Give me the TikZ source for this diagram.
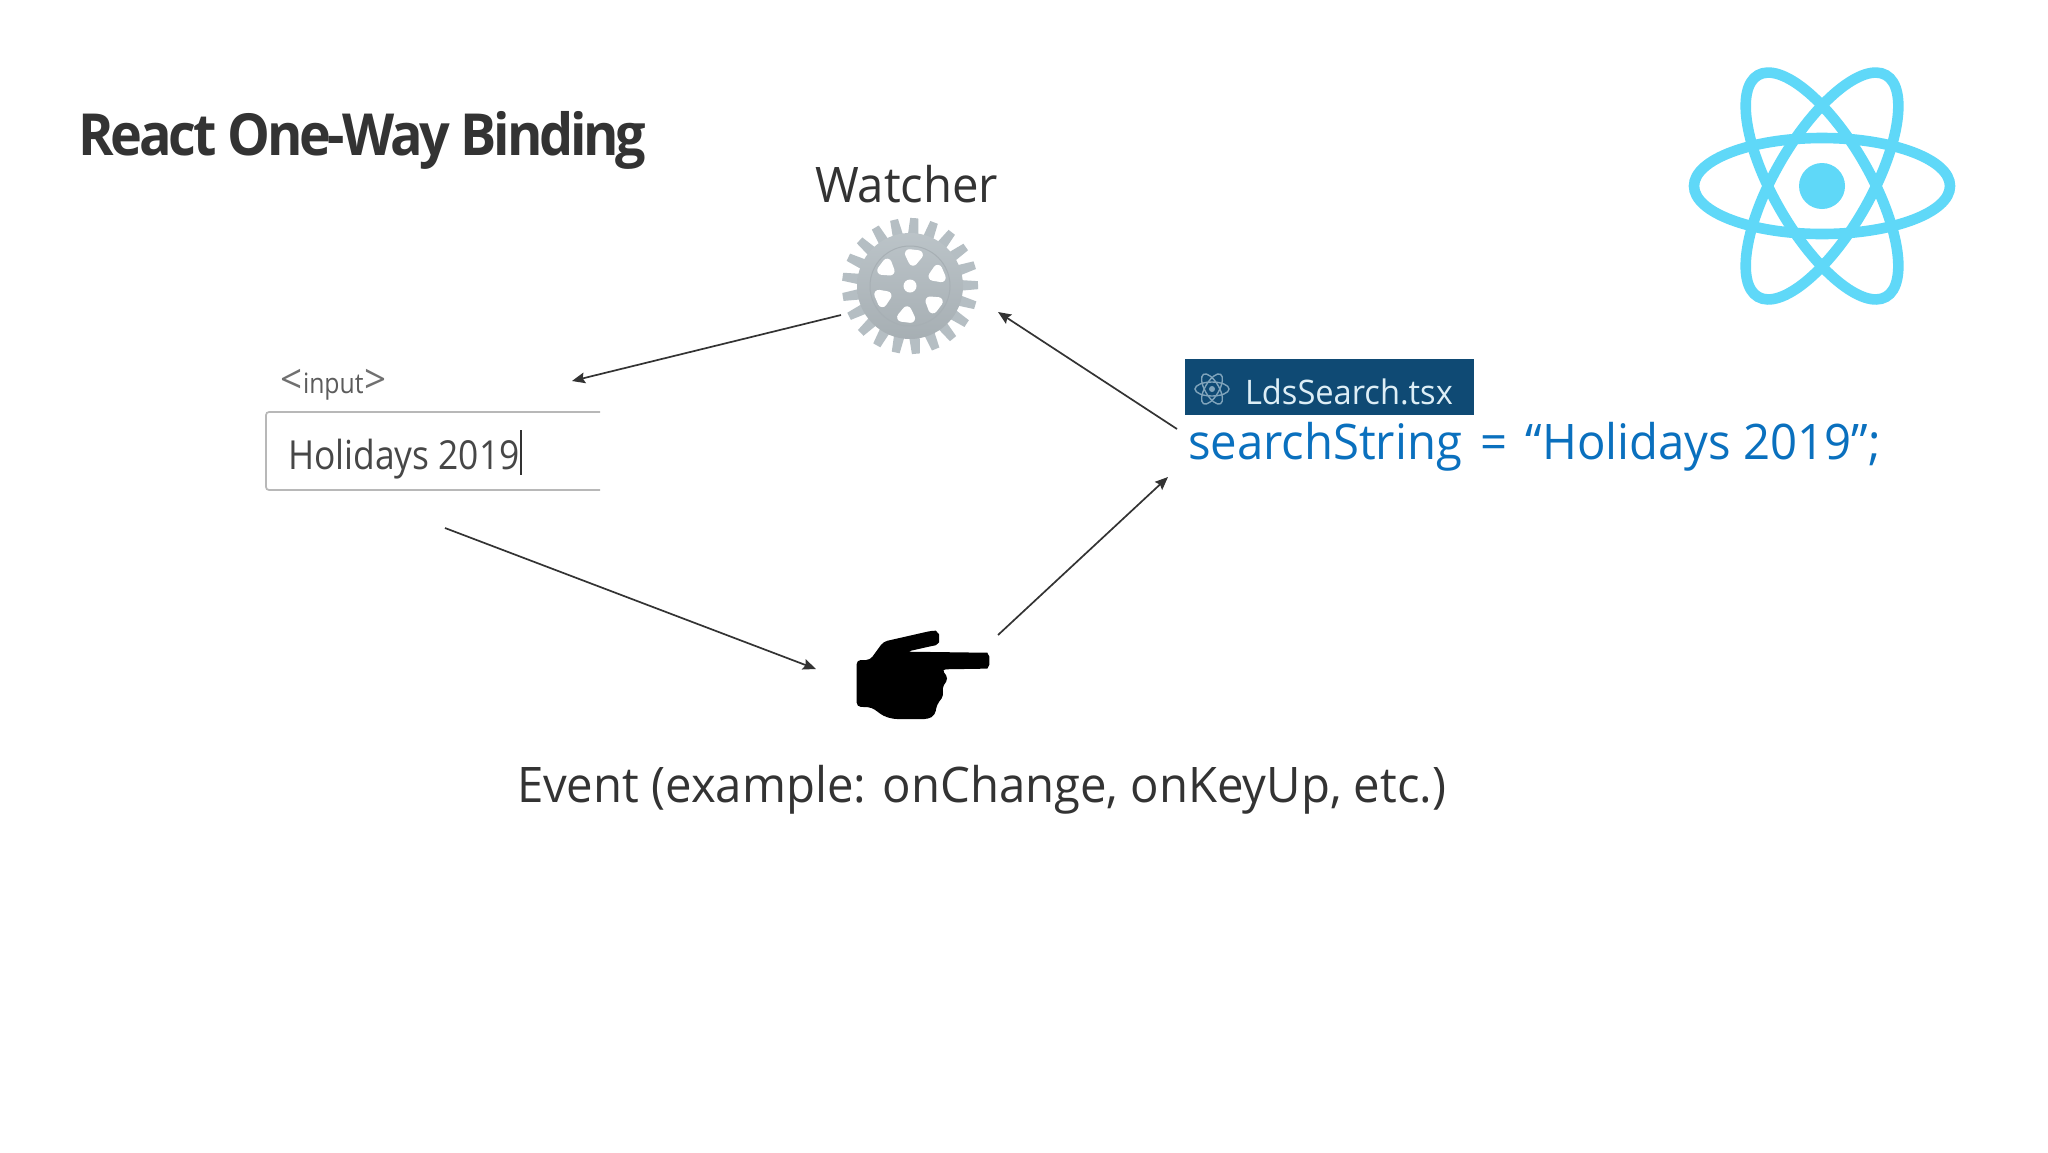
\documentclass[tikz,border=0pt]{standalone}
\usepackage{fontspec}
\setmainfont{Open Sans}
\newfontfamily\stdfont[FakeStretch=0.965]{Open Sans}
\newfontfamily\narrowfont[FakeStretch=0.885]{Open Sans}
\newfontfamily\ttlfont[FakeStretch=0.93,LetterSpace=-5.5]{Open Sans}
\usetikzlibrary{arrows.meta}
\definecolor{ink}{HTML}{333333}
\definecolor{codeblue}{HTML}{0A70BE}
\definecolor{tabblue}{HTML}{0F4A74}
\definecolor{tabtext}{HTML}{DDEEF6}
\definecolor{reactblue}{HTML}{5FD8F8}
\definecolor{gearg}{HTML}{B5BEC3}
\definecolor{boxline}{HTML}{B8B8B8}
\tikzset{
  label/.style={inner sep=0pt,outer sep=0pt,anchor=base west,text=ink,font=\stdfont\fontsize{24.5}{28}\selectfont},
  conn/.style={draw=ink,line width=0.85pt,-{Stealth[length=6.5pt,width=5.4pt,inset=1pt]}},
  orbit/.style={draw=reactblue,line width=5.3pt},
  tinyorbit/.style={draw=tabtext!55!tabblue,line width=0.7pt},
}
\begin{document}
\begin{tikzpicture}[x=0.5pt,y=-0.5pt]
\useasboundingbox (0,0) rectangle (2048,1152);
\fill[white] (0,0) rectangle (2048,1152);
\node[label,text=ink,font=\ttlfont\bfseries\fontsize{29}{32}\selectfont] (title) at (78,155) {React One-Way Binding};
\node[label] (watcher) at (815,202) {Watcher};
% gear
\begin{scope}[shift={(910,286)}]
  \foreach \a in {0,...,20}{
    \fill[gearg,rotate=-85+\a*17.143] (48,-5.5) -- (68,-4) -- (68,4) -- (48,5.5) -- cycle;
  }
  \shade[shading angle=45,top color=gearg!92!white,bottom color=gearg!92!black] (0,0) circle[radius=53];
  \draw[gearg!92!black,line width=0.5pt] (0,0) circle[radius=40];
  \foreach \a in {0,...,5}{
    \begin{scope}[rotate=-97+\a*60]
      \fill[white,draw=white,line width=4.5pt,line join=round] (32,-4.5) -- (32,4.5) -- (25,0) -- cycle;
    \end{scope}
  }
  \fill[white] (0,0) circle[radius=6.5];
\end{scope}
% input
\node[label,font=\narrowfont\fontsize{14}{16}\selectfont,text=ink!80] (inp) at (303,393) {input};
\node[label,font=\stdfont\fontsize{20}{22}\selectfont,text=ink!70] (ltsign) at (280,393) {<};
\node[label,font=\stdfont\fontsize{20}{22}\selectfont,text=ink!70] (gtsign) at (364,393) {>};
\draw[boxline,line width=0.85pt,rounded corners=1.5pt] (600,412) -- (266,412) -- (266,490) -- (600,490);
\node[label,font=\narrowfont\fontsize{20}{24}\selectfont,text=ink!90] (hol) at (288,469) {Holidays 2019};
\draw[ink,line width=0.8pt] (521,430) -- (521,475);
% tab
\fill[tabblue] (1185,359) rectangle (1474,415);
\begin{scope}[shift={(1212,389)}]
  \foreach \r in {0,60,120}{\draw[tinyorbit,rotate=\r] (0,0) ellipse[x radius=17,y radius=7];}
  \fill[tabtext!55!tabblue] (0,0) circle[radius=3];
\end{scope}
\node[label,text=tabtext,font=\stdfont\fontsize{16.9}{20}\selectfont] (tab) at (1245,404) {LdsSearch.tsx};
\node[label,text=codeblue] (code) at (1188,459) {searchString\hspace{3pt} = \hspace{3pt}“Holidays 2019”;};
% hand
\node[label] (event) at (517,802) {Event (example: onChange, onKeyUp, etc.)};
\begin{scope}[shift={(820,610)},x=0.1667pt,y=-0.1667pt]
\fill[black,rounded corners=2pt] (110,150) -- (150,150) -- (190,95) -- (335,62) to[out=0,in=90] (357,85) to[out=-90,in=10] (335,108) -- (260,125) -- (490,128) to[out=0,in=90] (508,152) to[out=-90,in=0] (490,176) -- (365,178) -- (385,205) -- (365,235) -- (372,255) -- (350,285) -- (345,315) -- (325,327) -- (220,327) -- (190,318) -- (155,292) -- (110,290) -- cycle;
\end{scope}
% react logo
\begin{scope}[shift={(1822,186)}]
  \foreach \r in {0,60,120}{\draw[orbit,rotate=\r] (0,0) ellipse[x radius=128,y radius=48];}
  \fill[reactblue] (0,0) circle[radius=23];
\end{scope}
% connectors
\coordinate (a1) at (841,315); \coordinate (a2) at (572,381);
\coordinate (b1) at (1177,429); \coordinate (b2) at (998,312);
\coordinate (c1) at (445,528); \coordinate (c2) at (816,669);
\coordinate (d1) at (998,635); \coordinate (d2) at (1168,477);
\draw[conn] (a1) -- (a2);
\draw[conn] (b1) -- (b2);
\draw[conn] (c1) -- (c2);
\draw[conn] (d1) -- (d2);
\end{tikzpicture}
\end{document}
